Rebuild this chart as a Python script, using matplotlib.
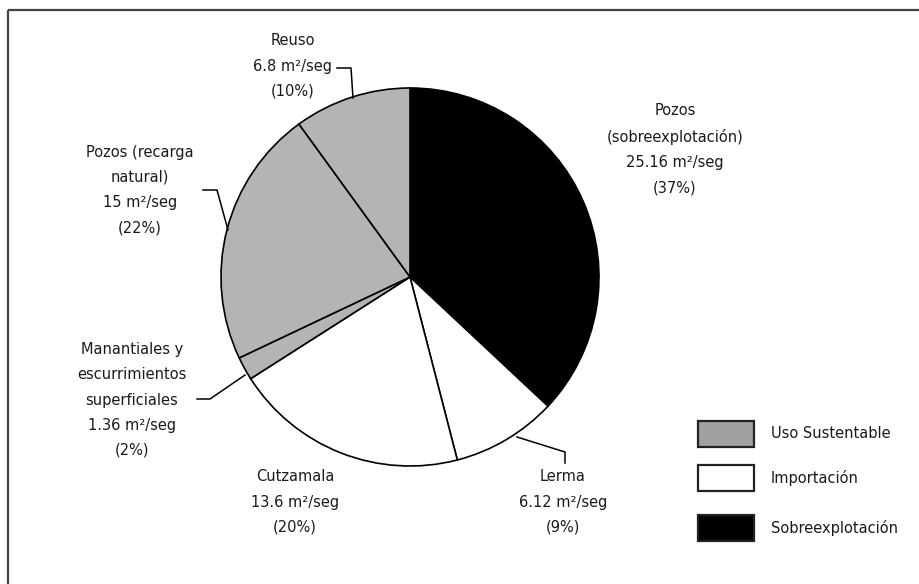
import numpy as np
import matplotlib
matplotlib.use("Agg")
import matplotlib.pyplot as plt
from matplotlib.patches import Rectangle

# Water supply sources (m3/seg), clockwise from the top
fuentes = ["Pozos\n(sobreexplotación)", "Lerma", "Cutzamala",
           "Manantiales y\nescurrimientos\nsuperficiales",
           "Pozos (recarga\nnatural)", "Reuso"]
caudal = [25.16, 6.12, 13.6, 1.36, 15, 6.8]
caudal_txt = ["25.16", "6.12", "13.6", "1.36", "15", "6.8"]
grupo = [2, 1, 1, 0, 0, 0]

# Legend groups
grupos = ["Uso Sustentable", "Importación", "Sobreexplotación"]
colores_pie = ["#b4b4b4", "#ffffff", "#000000"]
colores_ley = ["#a0a0a0", "#ffffff", "#000000"]

W, H = 920, 584
fig = plt.figure(figsize=(W/100, H/100), dpi=100)
ax = fig.add_axes([0, 0, 1, 1])

def py(y):
    # pixel row (from top) -> axes y
    return H - y

cx, cy, r = 410, 277, 189
ax.pie(caudal, colors=[colores_pie[g] for g in grupo], startangle=90,
       counterclock=False, center=(cx, py(cy)), radius=r, frame=True,
       wedgeprops=dict(edgecolor="black", linewidth=1.2))

ax.set_xlim(0, W)
ax.set_ylim(0, H)
ax.set_aspect("equal")
ax.axis("off")

# outer frame (only top and left edges show)
ax.plot([8, W], [py(10), py(10)], color="#444444", lw=1.6, solid_capstyle="butt")
ax.plot([8, 8], [py(10), 0], color="#444444", lw=1.6, solid_capstyle="butt")

total = sum(caudal)
pct = [round(100*v/total) for v in caudal]

# label positions (x, y centre of the text block)
pos_txt = [(675, 149), (563, 502), (295, 502), (132, 400), (140, 190), (293, 66)]
for nombre, vtxt, p, (x, y) in zip(fuentes, caudal_txt, pct, pos_txt):
    s = f"{nombre}\n{vtxt} m²/seg\n({p}%)"
    ax.text(x, py(y), s, ha="center", va="center", fontsize=10.5,
            color="#1a1a1a", linespacing=1.85, family="DejaVu Sans")

# leader lines
guias = [
    [(337, 68), (351, 68), (353, 98)],
    [(203, 190), (217, 190), (228, 230)],
    [(197, 399), (210, 399), (245, 375)],
    [(517, 437), (565, 452), (565, 463)],
]
for g in guias:
    xs = [p[0] for p in g]
    ys = [py(p[1]) for p in g]
    ax.plot(xs, ys, color="black", lw=1.1)

# legend
ley_y = [434, 478, 528]
for nombre, col, y in zip(grupos, colores_ley, ley_y):
    ax.add_patch(Rectangle((698, py(y) - 13), 56, 26, facecolor=col,
                           edgecolor="#222222", lw=1.6))
    ax.text(771, py(y), nombre, ha="left", va="center", fontsize=10.5,
            color="#1a1a1a", family="DejaVu Sans")

fig.savefig("out.png", dpi=100)
